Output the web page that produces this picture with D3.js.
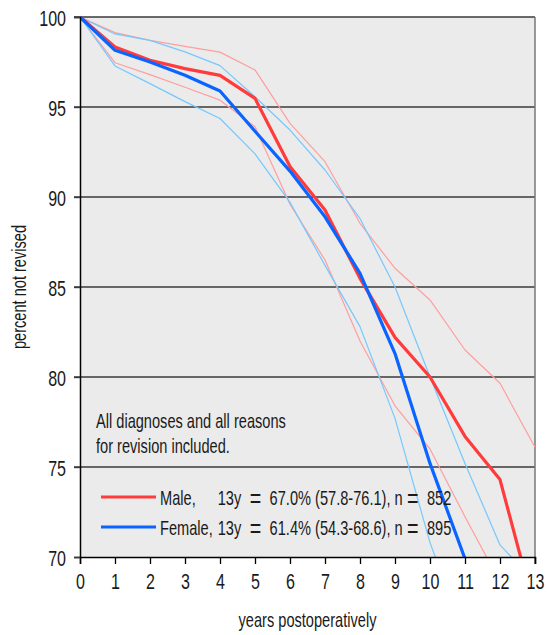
<!DOCTYPE html>
<html>
<head>
<meta charset="utf-8">
<script src="https://cdn.jsdelivr.net/npm/d3@7"></script>
<style>
  html, body { margin: 0; padding: 0; background: #ffffff; }
  svg { display: block; }
  text { font-family: "Liberation Sans", Arial, sans-serif; fill: #1a1a1a; }
</style>
</head>
<body>
<svg id="chart" width="547" height="635"></svg>
<script>
// Survival (percent not revised) by year after operation
const years = [0, 1, 2, 3, 4, 5, 6, 7, 8, 9, 10, 11, 12, 13];
const male        = [100, 98.33, 97.6, 97.13, 96.76, 95.48, 91.69, 89.28, 85.48, 82.2, 80.0, 76.7, 74.3, 67.0];
const maleUpper   = [100, 99.13, 98.7, 98.37, 98.05, 97.06, 94.09, 91.96, 88.54, 86.04, 84.28, 81.5, 79.65, 76.1];
const maleLower   = [100, 97.46, 96.8, 96.1, 95.38, 93.9, 89.6, 86.5, 82.0, 78.4, 76.0, 72.24, 68.6, 57.8];
const female      = [100, 98.15, 97.5, 96.76, 95.89, 93.65, 91.44, 88.9, 85.76, 81.3, 75.2, 69.9, 65.6, 61.4];
const femaleUpper = [100, 99.06, 98.7, 98.06, 97.3, 95.57, 93.72, 91.5, 88.8, 85.0, 80.0, 75.2, 70.67, 68.6];
const femaleLower = [100, 97.28, 96.3, 95.3, 94.36, 92.4, 89.7, 86.2, 82.8, 77.7, 70.8, 65.5, 59.8, 54.3];

const yTicks = [70, 75, 80, 85, 90, 95, 100];
const xTicks = years;

const note = ["All diagnoses and all reasons", "for revision included."];
const legendItems = [
  { label: "Male,", stat: "13y = 67.0% (57.8-76.1), n = 852", color: "#ff3b3b" },
  { label: "Female,", stat: "13y = 61.4% (54.3-68.6), n = 895", color: "#0a64ff" }
];

const svg = d3.select("#chart");
const plotL = 80, plotR = 535, plotT = 17, plotB = 557;
const narrow = 0.73;   // horizontal squeeze giving a condensed typeface

const x = d3.scaleLinear().domain([0, 13]).range([plotL, plotR]);
const y = d3.scaleLinear().domain([70, 100]).range([plotB, plotT]);

// plot background
svg.append("rect")
  .attr("x", plotL).attr("y", plotT)
  .attr("width", plotR - plotL).attr("height", plotB - plotT)
  .attr("fill", "#ebebeb");

svg.append("clipPath").attr("id", "plotClip")
  .append("rect")
  .attr("x", plotL).attr("y", plotT - 2)
  .attr("width", plotR - plotL).attr("height", plotB - plotT + 2);

// horizontal grid lines every 5 percent
svg.append("g")
  .selectAll("line")
  .data(yTicks.filter(v => v > 70))
  .join("line")
  .attr("x1", plotL - 6).attr("x2", plotR)
  .attr("y1", d => y(d)).attr("y2", d => y(d))
  .attr("stroke", "#3a3a3a")
  .attr("stroke-width", 1.4);

// right border
svg.append("line")
  .attr("x1", plotR).attr("x2", plotR)
  .attr("y1", plotT).attr("y2", plotB + 7)
  .attr("stroke", "#777").attr("stroke-width", 1.5);

const line = d3.line().x((d, i) => x(years[i])).y(d => y(d));

const plot = svg.append("g").attr("clip-path", "url(#plotClip)");

// confidence limits (thin)
[[maleUpper, "#ff9e9e"], [maleLower, "#ff9e9e"], [femaleUpper, "#74c8ff"], [femaleLower, "#74c8ff"]]
  .forEach(([vals, col]) => {
    plot.append("path")
      .datum(vals)
      .attr("d", line)
      .attr("fill", "none")
      .attr("stroke", col)
      .attr("stroke-width", 1.2)
      .attr("stroke-linejoin", "round");
  });

// survival curves (thick)
[[male, "#ff3b3b"], [female, "#0a64ff"]].forEach(([vals, col]) => {
  plot.append("path")
    .datum(vals)
    .attr("d", line)
    .attr("fill", "none")
    .attr("stroke", col)
    .attr("stroke-width", 3.2)
    .attr("stroke-linejoin", "round");
});

// axes
const xAxis = d3.axisBottom(x).tickValues(xTicks).tickSize(7).tickFormat(d3.format("d"));
const gx = svg.append("g").attr("transform", `translate(0,${plotB})`).call(xAxis);
gx.select(".domain").attr("stroke", "#000").attr("stroke-width", 1.5);
gx.selectAll(".tick line").attr("stroke", "#000").attr("stroke-width", 1.3);
gx.selectAll(".tick text")
  .attr("font-size", 22).attr("fill", "#1a1a1a")
  .attr("font-family", "'Liberation Sans', Arial, sans-serif")
  .attr("y", null).attr("dy", null)
  .attr("transform", `translate(0,32) scale(${narrow},1)`);

const yAxis = d3.axisLeft(y).tickValues(yTicks).tickSize(6).tickFormat(d3.format("d"));
const gy = svg.append("g").attr("transform", `translate(${plotL},0)`).call(yAxis);
gy.select(".domain").attr("stroke", "#000").attr("stroke-width", 1.5);
gy.selectAll(".tick line").attr("stroke", "#3a3a3a").attr("stroke-width", 1.4);
gy.selectAll(".tick text")
  .attr("font-size", 22).attr("fill", "#1a1a1a")
  .attr("font-family", "'Liberation Sans', Arial, sans-serif")
  .attr("x", null).attr("dy", null)
  .attr("transform", `translate(-14,8) scale(${narrow},1)`);

// axis titles
svg.append("text")
  .attr("transform", `translate(${(plotL + plotR) / 2},627) scale(${narrow},1)`)
  .attr("text-anchor", "middle")
  .attr("font-size", 20)
  .text("years postoperatively");

svg.append("text")
  .attr("transform", `translate(26,${(plotT + plotB) / 2}) rotate(-90) scale(${narrow},1)`)
  .attr("text-anchor", "middle")
  .attr("font-size", 20)
  .text("percent not revised");

// note inside the plot
svg.append("g").selectAll("text")
  .data(note)
  .join("text")
  .attr("transform", (d, i) => `translate(96,${428 + i * 24.7}) scale(${narrow},1)`)
  .attr("font-size", 20)
  .text(d => d);

// legend
const lg = svg.append("g");
const rows = lg.selectAll("g").data(legendItems).join("g")
  .attr("transform", (d, i) => `translate(0,${497 + i * 30})`);
rows.append("line")
  .attr("x1", 101).attr("x2", 156)
  .attr("y1", 0).attr("y2", 0)
  .attr("stroke", d => d.color).attr("stroke-width", 3);
const labels = rows.append("text")
  .attr("transform", `translate(160,8) scale(${narrow},1)`)
  .attr("font-size", 20)
  .text(d => d.label);
// statistics column starts after the widest label
let maxW = 0;
labels.each(function () { maxW = Math.max(maxW, this.getComputedTextLength() * narrow); });
const stats = rows.append("text")
  .attr("transform", `translate(${160 + maxW + 5},8) scale(${narrow},1)`)
  .attr("font-size", 20);
// wide equals signs, as in mathematical typesetting
stats.each(function (d) {
  const t = d3.select(this);
  d.stat.split(" = ").forEach((part, i) => {
    if (i > 0) {
      t.append("tspan").attr("font-size", 27).attr("dx", 6).attr("dy", 2.5).text("=");
      t.append("tspan").attr("dx", 6).attr("dy", -2.5).text(" " + part);
    } else {
      t.append("tspan").text(part + " ");
    }
  });
});
</script>
</body>
</html>
